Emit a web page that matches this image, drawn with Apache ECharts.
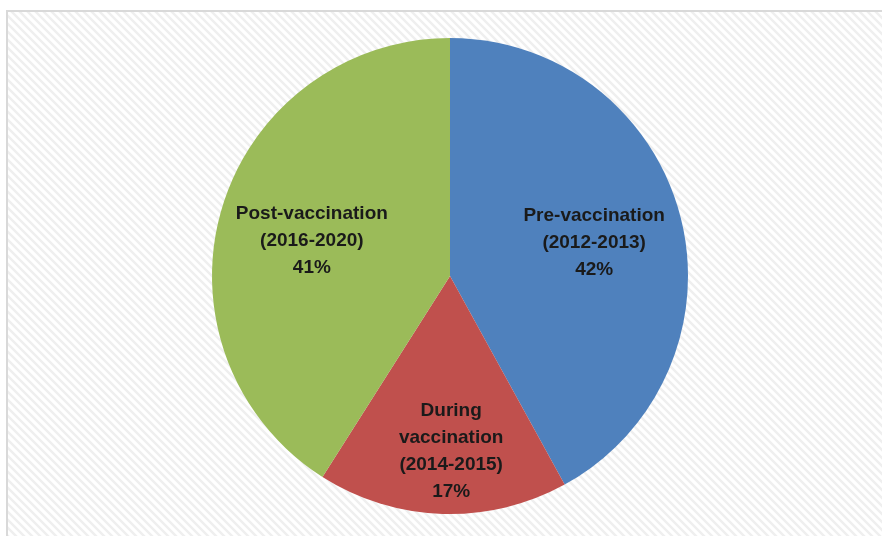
<!DOCTYPE html>
<html>
<head>
<meta charset="utf-8">
<script src="https://cdn.jsdelivr.net/npm/echarts@6/dist/echarts.min.js"></script>
<style>
html,body{margin:0;padding:0;background:#fff;}
#chart{width:882px;height:536px;}
</style>
</head>
<body>
<div id="chart"></div>
<script>
const categories = ['Pre-vaccination\n(2012-2013)', 'During\nvaccination\n(2014-2015)', 'Post-vaccination\n(2016-2020)'];
const values = [42, 17, 41];
const colors = ['#4F81BD', '#C0504D', '#9BBB59'];

// label offsets (style, not data)
const labelOffsets = [[26, -3], [5, 53], [-21, -1]];

// striped background tile
const tile = document.createElement('canvas');
tile.width = 8; tile.height = 8;
const ctx = tile.getContext('2d');
ctx.fillStyle = '#ffffff';
ctx.fillRect(0, 0, 8, 8);
ctx.strokeStyle = '#efefef';
ctx.lineWidth = 2.5;
ctx.beginPath();
ctx.moveTo(-2, -2); ctx.lineTo(10, 10);
ctx.moveTo(-10, -2); ctx.lineTo(2, 10);
ctx.moveTo(6, -2); ctx.lineTo(18, 10);
ctx.stroke();

const chart = echarts.init(document.getElementById('chart'), null, {renderer: 'canvas'});
chart.setOption({
  animation: false,
  backgroundColor: '#ffffff',
  graphic: [{
    type: 'rect',
    z: -10,
    silent: true,
    shape: {x: 7, y: 11, width: 885, height: 535},
    style: {fill: {image: tile, repeat: 'repeat'}, stroke: '#d9d9d9', lineWidth: 2}
  }],
  series: [{
    type: 'pie',
    center: [450, 276],
    radius: 238,
    startAngle: 90,
    clockwise: true,
    label: {
      show: true,
      position: 'inside',
      fontFamily: 'Liberation Sans',
      fontWeight: 'bold',
      fontSize: 19,
      lineHeight: 27,
      color: '#1a1a1a',
      formatter: p => p.name + '\n' + p.value + '%'
    },
    labelLine: {show: false},
    emphasis: {disabled: true},
    itemStyle: {borderWidth: 0},
    data: categories.map((c, i) => ({
      name: c,
      value: values[i],
      itemStyle: {color: colors[i]},
      label: {offset: labelOffsets[i]}
    }))
  }]
});
</script>
</body>
</html>
